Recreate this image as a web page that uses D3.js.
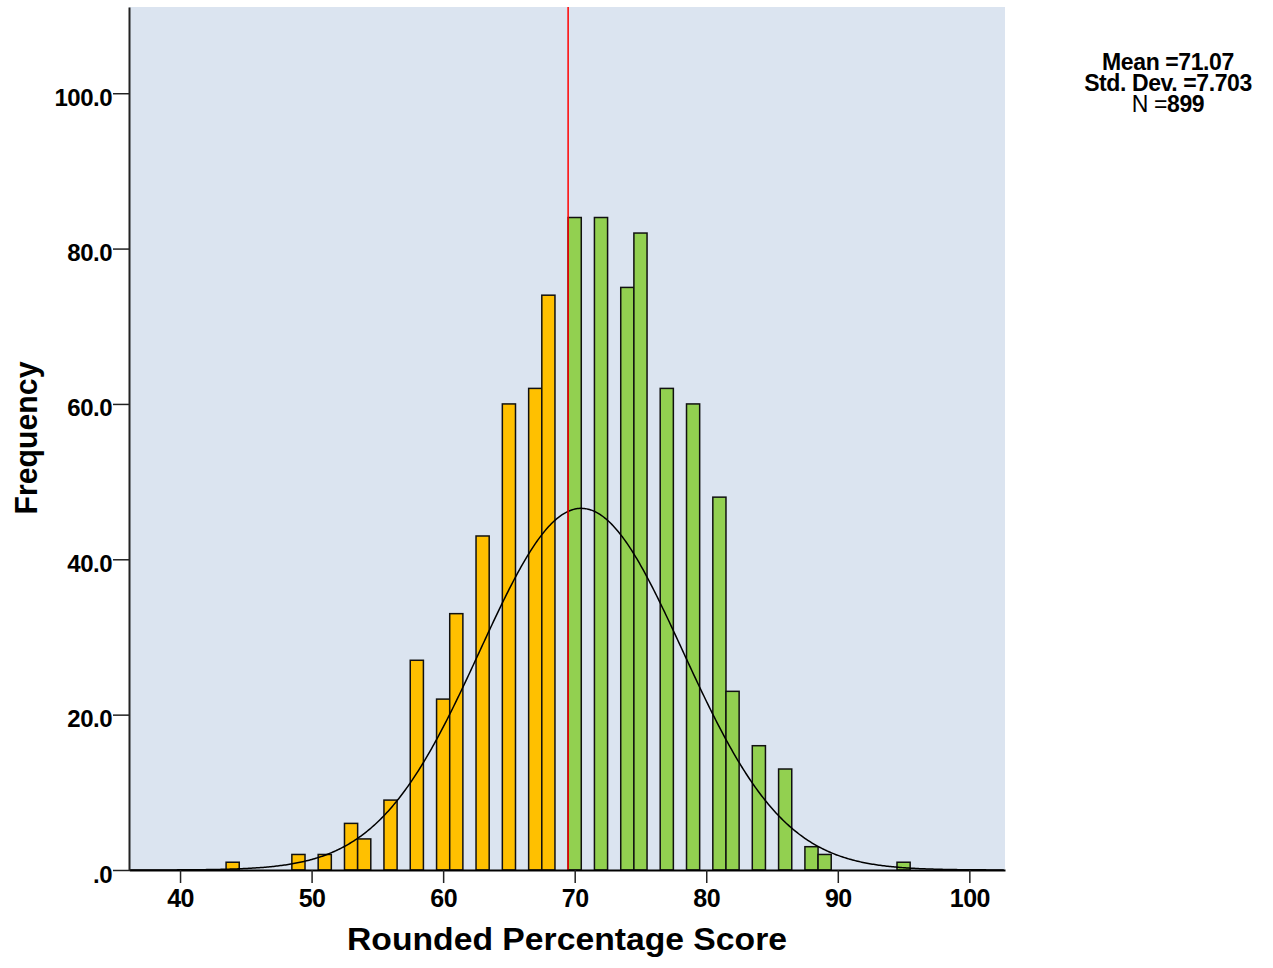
<!DOCTYPE html>
<html>
<head>
<meta charset="utf-8">
<script src="https://cdn.jsdelivr.net/npm/d3@7/dist/d3.min.js"></script>
<style>
  body { margin: 0; background: #fff; }
  text { font-family: "Liberation Sans", Arial, sans-serif; fill: #000; }
</style>
</head>
<body>
<div id="chart"></div>
<script>
// histogram data
var scores      = [44, 49, 51, 53, 54, 56, 58, 60, 61, 63, 65, 67, 68,
                   70, 72, 74, 75, 77, 79, 81, 82, 84, 86, 88, 89, 95];
var frequencies = [ 1,  2,  2,  6,  4,  9, 27, 22, 33, 43, 60, 62, 74,
                   84, 84, 75, 82, 62, 60, 48, 23, 16, 13,  3,  2,  1];
var cutoff = 69.5;            // red line, below = orange, above = green
var xTicks = [40, 50, 60, 70, 80, 90, 100];
var yTicks = [0, 20, 40, 60, 80, 100];
var statLines = [
    { label: "Mean =", value: "71.07", boldLabel: true },
    { label: "Std. Dev. =", value: "7.703", boldLabel: true },
    { label: "N =", value: "899", boldLabel: false }
];
// normal curve, as drawn (centre)
var curveCentre = 70.5, curveSd = 7.703, curveN = 899, binWidth = 1;

var width = 1273, height = 968;
var plot = { left: 129, right: 1005, top: 7, bottom: 870 };

var svg = d3.select("#chart")
    .append("svg")
    .attr("width", width)
    .attr("height", height);

var x = d3.scaleLinear().domain([36.12, 102.71]).range([plot.left, plot.right]);
var y = d3.scaleLinear().domain([0, 111.1]).range([plot.bottom, plot.top]);

svg.append("rect")
    .attr("x", plot.left)
    .attr("y", plot.top)
    .attr("width", plot.right - plot.left)
    .attr("height", plot.bottom - plot.top)
    .attr("fill", "#dbe4f0");

var data = scores.map(function(s, i){ return { score: s, freq: frequencies[i] }; });

svg.append("g")
    .selectAll("rect")
    .data(data)
    .enter()
    .append("rect")
    .attr("x", function(d){ return x(d.score - binWidth / 2); })
    .attr("y", function(d){ return y(d.freq); })
    .attr("width", function(d){ return x(d.score + binWidth / 2) - x(d.score - binWidth / 2); })
    .attr("height", function(d){ return y(0) - y(d.freq); })
    .attr("fill", function(d){ return d.score < cutoff ? "#ffc000" : "#92d050"; })
    .attr("stroke", "#111")
    .attr("stroke-width", 1.5);

// fitted normal curve
var dens = function(v){
    var z = (v - curveCentre) / curveSd;
    return curveN * binWidth / (curveSd * Math.sqrt(2 * Math.PI)) * Math.exp(-0.5 * z * z);
};
var curvePts = d3.range(x.domain()[0], x.domain()[1], 0.1).map(function(v){ return [v, dens(v)]; });
svg.append("path")
    .datum(curvePts)
    .attr("fill", "none")
    .attr("stroke", "#000")
    .attr("stroke-width", 1.5)
    .attr("d", d3.line().x(function(d){ return x(d[0]); }).y(function(d){ return y(d[1]); }));

svg.append("line")
    .attr("x1", x(cutoff)).attr("x2", x(cutoff))
    .attr("y1", plot.top).attr("y2", plot.bottom)
    .attr("stroke", "#ff0000")
    .attr("stroke-width", 1.5);

// axes
var xAxis = svg.append("g")
    .attr("transform", "translate(0," + plot.bottom + ")")
    .call(d3.axisBottom(x).tickValues(xTicks).tickSize(13).tickPadding(6).tickSizeOuter(0));
xAxis.select(".domain").attr("stroke", "#000").attr("stroke-width", 2);
xAxis.selectAll(".tick line").attr("stroke", "#222").attr("stroke-width", 1.5);
xAxis.selectAll(".tick text")
    .attr("font-size", 25)
    .attr("font-weight", "bold")
    .attr("letter-spacing", -0.5)
    .attr("font-family", "Liberation Sans, Arial, sans-serif");

var yAxis = svg.append("g")
    .attr("transform", "translate(" + plot.left + ",0)")
    .call(d3.axisLeft(y).tickValues(yTicks).tickSize(16).tickPadding(1).tickSizeOuter(0)
        .tickFormat(function(d){ return d === 0 ? ".0" : d.toFixed(1); }));
yAxis.select(".domain").attr("stroke", "#222").attr("stroke-width", 2);
yAxis.selectAll(".tick line").attr("stroke", "#222").attr("stroke-width", 1.5);
yAxis.selectAll(".tick text")
    .attr("font-size", 24)
    .attr("font-weight", "bold")
    .attr("letter-spacing", -0.5)
    .attr("dy", "0.5em")
    .attr("font-family", "Liberation Sans, Arial, sans-serif");

// axis titles
svg.append("text")
    .attr("x", 567)
    .attr("y", 950)
    .attr("text-anchor", "middle")
    .attr("font-size", 31)
    .attr("font-weight", "bold")
    .attr("textLength", 440)
    .attr("lengthAdjust", "spacingAndGlyphs")
    .text("Rounded Percentage Score");

svg.append("text")
    .attr("transform", "translate(37,438) rotate(-90)")
    .attr("text-anchor", "middle")
    .attr("font-size", 31)
    .attr("font-weight", "bold")
    .attr("textLength", 153)
    .attr("lengthAdjust", "spacingAndGlyphs")
    .text("Frequency");

// summary statistics
var stats = svg.append("g");
statLines.forEach(function(s, i){
    var t = stats.append("text")
        .attr("x", 1168)
        .attr("y", 70 + i * 21)
        .attr("text-anchor", "middle")
        .attr("font-size", 23)
        .attr("letter-spacing", -0.4);
    t.append("tspan").attr("font-weight", s.boldLabel ? "bold" : "normal").text(s.label);
    t.append("tspan").attr("font-weight", "bold").text(s.value);
});
</script>
</body>
</html>
